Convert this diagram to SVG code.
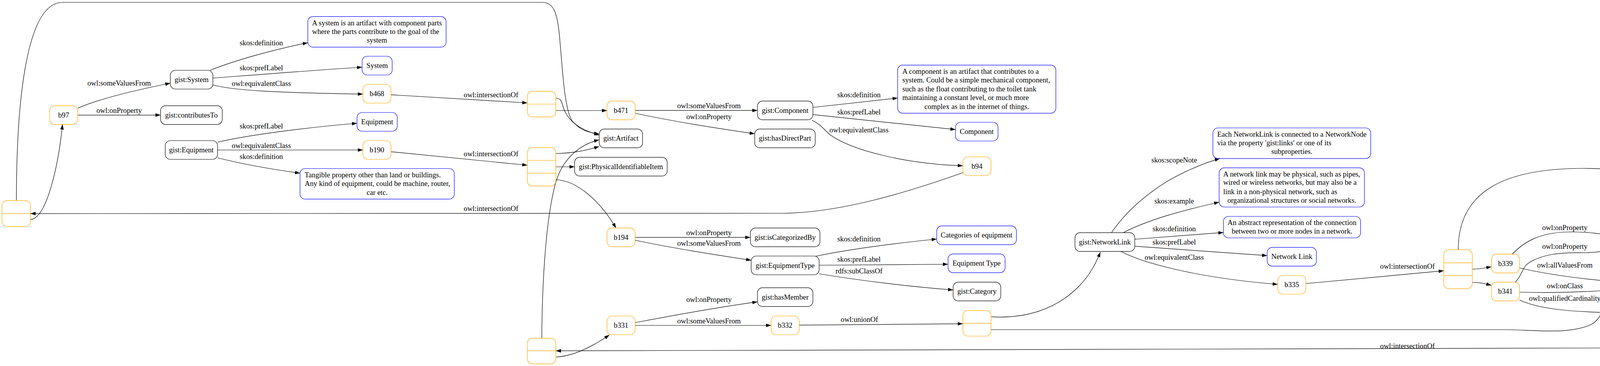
<svg xmlns="http://www.w3.org/2000/svg" width="5764" height="937" viewBox="0 0 5764 937">
<defs>
<marker id="ah" viewBox="0 0 13 9" refX="13" refY="4.5" markerWidth="13" markerHeight="9" markerUnits="userSpaceOnUse" orient="auto"><path d="M0,0 L13,4.5 L0,9 z" fill="#000"/></marker>
<style>
text{font-family:"Liberation Serif","Times New Roman",serif;font-size:18.67px;fill:#000}
.m{text-anchor:middle}
.s{text-anchor:start}
.k rect{fill:#fff;stroke:#000;stroke-width:1.2}
.b rect{fill:#fff;stroke:#0000ff;stroke-width:1.2}
.o rect{fill:#fff;stroke:#ffa500;stroke-width:1.2}
.o line{stroke:#ffa500;stroke-width:1.2}
#edges path{fill:none;stroke:#000;stroke-width:1.2;marker-end:url(#ah)}
</style>
</defs>
<rect width="5764" height="937" fill="#fff"/>
<g id="edges">
<path d="M199,277 C250,255 340,232 436,213"/>
<path d="M199,294.6 L411,294.6"/>
<path d="M538,180 C600,155 700,127 788,109.4"/>
<path d="M545,200 C650,192 800,180 927,172"/>
<path d="M545,217.5 C600,232 700,237 929,241"/>
<path d="M557,364 C640,345 780,327 914,315.5"/>
<path d="M557,384 L929,384"/>
<path d="M557,404 C620,420 700,434 768,443.4"/>
<path d="M1001,242.6 L1350,263.5"/>
<path d="M1001,388.4 L1350,423"/>
<path d="M1423,251 C1440,251 1438,268 1446,285 C1458,310 1480,330 1534,346"/>
<path d="M42,513 C42,300 60,6 160,6 L1389,6 C1420,6 1428,40 1433,100 C1440,180 1445,280 1465,310 C1485,333 1505,339 1534,343"/>
<path d="M1423,283 L1554,283"/>
<path d="M1423,393 C1470,392 1500,385 1534,375"/>
<path d="M1387,866 C1388,700 1400,540 1425,460 C1445,400 1490,368 1534,358"/>
<path d="M1423,427 L1471,427"/>
<path d="M1423,460 C1480,462 1540,520 1577,583.8"/>
<path d="M1626,282.7 L1939,282.7"/>
<path d="M1626,290 C1720,310 1830,328 1932,342.4"/>
<path d="M2081,275 L2298,251"/>
<path d="M2081,293.4 L2446,331.7"/>
<path d="M2079,308 C2100,318 2108,330 2125,345 C2180,385 2320,420 2465,424.3"/>
<path d="M2465,442 C2330,490 2150,546 2000,546 L78,546.8"/>
<path d="M78,562 C120,560 150,420 160,318.6"/>
<path d="M1626,607.7 L1921,607.7"/>
<path d="M1626,615 C1720,635 1830,652 1923,666.3"/>
<path d="M2088,656 C2180,637 2300,622 2398,612"/>
<path d="M2097,679 L2427,676.5"/>
<path d="M2097,701 C2200,718 2330,734 2440,742.2"/>
<path d="M1626,826 C1720,808 1830,788 1939,772.7"/>
<path d="M1626,833 L1974,833"/>
<path d="M2046,832.4 L2465,828.8"/>
<path d="M1423,914 C1470,912 1520,885 1560,857.5"/>
<path d="M5532,887 C5100,897 4000,898.2 1423,898.2"/>
<path d="M2537,811 C2620,816 2700,795 2760,735 C2790,705 2805,675 2817,645.4"/>
<path d="M2537,844 L3860,844 C3940,846 4020,856 4075,830 C4100,815 4105,785 4115,770 L4137,752"/>
<path d="M2845,596 C2880,545 2930,500 2990,463 C3040,435 3080,418 3123,405.8"/>
<path d="M2875,596 C2940,562 3030,538 3121,517.5"/>
<path d="M2905,612.5 L3132,595.2"/>
<path d="M2905,630.4 L3244,654.4"/>
<path d="M2870,644 C2920,670 3050,710 3271,728"/>
<path d="M3343,726 L3696,693.2"/>
<path d="M3733,639.4 C3733,490 3850,431 4054,431 C4250,431 4450,486 4598,529.5"/>
<path d="M3769,689 C3790,689 3800,686 3818,683"/>
<path d="M3769,723 C3790,723 3800,726 3818,730.3"/>
<path d="M3871,651 C3900,620 3940,596 4010,594 C4070,592 4110,601 4156,609.5"/>
<path d="M3879,722.5 C3900,700 3895,685 3915,672 C3950,651 3990,646 4060,647 C4100,646 4130,638 4156,633.4"/>
<path d="M3890,686 C3960,702 4040,713 4121,720.1"/>
<path d="M3890,748 C3970,750 4050,748 4121,743"/>
<path d="M3890,768 C3930,787 4000,800 4165,800.8"/>
<path d="M4247,703.4 C4300,680 4420,645 4568,624.5"/>
<path d="M4281,720 L4449,704"/>
<path d="M4281,739 C4400,748 4500,757 4598,763.1"/>
<path d="M4257,753 C4280,764 4285,774 4310,780 C4390,803 4460,820 4545,829.4"/>
<path d="M4670,541.4 C4800,542 4950,555 5020,577 C5040,585 5055,597 5068,607.7"/>
<path d="M4670,543 C4740,545 4790,562 4815,580 C4830,592 4830,603 4850,612 C4880,626 4930,624 4970,624 C5000,624 5020,640 5030,655 L5082,723.7"/>
<path d="M4670,759 C4750,747 4820,735 4880,715 C4950,692 5000,672 5039,655.5"/>
<path d="M4670,763 L5046,751.2"/>
<path d="M5165,727 C5230,708 5300,690 5379,674"/>
<path d="M5165,747 L5381,743.4"/>
<path d="M5165,765.5 C5280,785 5400,800 5525,808"/>
<path d="M5131,771.5 C5160,792 5180,805 5210,817 C5300,855 5420,877 5532,884"/>
<text class="m" x="305" y="218.7">owl:someValuesFrom</text>
<text class="m" x="305" y="289.3">owl:onProperty</text>
<text class="m" x="669" y="116">skos:definition</text>
<text class="m" x="669" y="179.9">skos:prefLabel</text>
<text class="m" x="669" y="219.9">owl:equivalentClass</text>
<text class="m" x="669" y="329.3">skos:prefLabel</text>
<text class="m" x="669" y="378.9">owl:equivalentClass</text>
<text class="m" x="669" y="407">skos:definition</text>
<text class="m" x="1257" y="248.6">owl:intersectionOf</text>
<text class="m" x="1257" y="400.4">owl:intersectionOf</text>
<text class="m" x="1257" y="540.2">owl:intersectionOf</text>
<text class="m" x="1815" y="276.7">owl:someValuesFrom</text>
<text class="m" x="1815" y="304.8">owl:onProperty</text>
<text class="m" x="2199" y="249.2">skos:definition</text>
<text class="m" x="2199" y="293.4">skos:prefLabel</text>
<text class="m" x="2199" y="338.9">owl:equivalentClass</text>
<text class="m" x="1815" y="602.4">owl:onProperty</text>
<text class="m" x="1815" y="629.3">owl:someValuesFrom</text>
<text class="m" x="2199" y="617.9">skos:definition</text>
<text class="m" x="2199" y="669.9">skos:prefLabel</text>
<text class="m" x="2199" y="699.8">rdfs:subClassOf</text>
<text class="m" x="1815" y="773.3">owl:onProperty</text>
<text class="m" x="1815" y="828.3">owl:someValuesFrom</text>
<text class="m" x="2200" y="824.1">owl:unionOf</text>
<text class="m" x="3006" y="416">skos:scopeNote</text>
<text class="m" x="3006" y="520.5">skos:example</text>
<text class="m" x="3006" y="592.2">skos:definition</text>
<text class="m" x="3006" y="625.7">skos:prefLabel</text>
<text class="m" x="3006" y="664.5">owl:equivalentClass</text>
<text class="m" x="3603" y="688.4">owl:intersectionOf</text>
<text class="m" x="3603" y="892.2">owl:intersectionOf</text>
<text class="m" x="4006" y="588.6">owl:onProperty</text>
<text class="m" x="4006" y="637">owl:onProperty</text>
<text class="m" x="4006" y="684.9">owl:allValuesFrom</text>
<text class="m" x="4006" y="738">owl:onClass</text>
<text class="m" x="4006" y="769.7">owl:qualifiedCardinality</text>
<text class="m" x="4365" y="641.8">skos:prefLabel</text>
<text class="m" x="4365" y="702.2">skos:example</text>
<text class="m" x="4365" y="733.9">rdfs:subClassOf</text>
<text class="m" x="4365" y="771.5">skos:definition</text>
<text class="m" x="4925" y="540.8">owl:onProperty</text>
<text class="m" x="4925" y="599.4">owl:someValuesFrom</text>
<text class="m" x="4925" y="662.1">owl:onProperty</text>
<text class="m" x="4925" y="745.2">owl:someValuesFrom</text>
<text class="m" x="5280" y="672.9">skos:example</text>
<text class="m" x="5280" y="736.2">skos:definition</text>
<text class="m" x="5280" y="765.5">skos:prefLabel</text>
<text class="m" x="5280" y="813.9">owl:equivalentClass</text>
</g>
<g id="n-System" class="k"><rect x="436" y="180" width="109" height="48" rx="13"/><text class="m" x="490.5" y="210">gist:System</text></g>
<g id="n-contributesTo" class="k"><rect x="411" y="270.6" width="158" height="48" rx="13"/><text class="m" x="490" y="300.6">gist:contributesTo</text></g>
<g id="n-Equipment" class="k"><rect x="423" y="360" width="134" height="48" rx="13"/><text class="m" x="490" y="390">gist:Equipment</text></g>
<g id="n-Artifact" class="k"><rect x="1534" y="330.4" width="111" height="48" rx="13"/><text class="m" x="1589.5" y="360.4">gist:Artifact</text></g>
<g id="n-PII" class="k"><rect x="1471" y="402.7" width="237" height="48" rx="13"/><text class="m" x="1589.5" y="432.7">gist:PhysicalIdentifiableItem</text></g>
<g id="n-Component" class="k"><rect x="1939" y="258.7" width="142" height="48" rx="13"/><text class="m" x="2010" y="288.7">gist:Component</text></g>
<g id="n-hasDirectPart" class="k"><rect x="1932" y="330.4" width="155" height="48" rx="13"/><text class="m" x="2009.5" y="360.4">gist:hasDirectPart</text></g>
<g id="n-isCategorizedBy" class="k"><rect x="1921" y="583.7" width="178" height="48" rx="13"/><text class="m" x="2010" y="613.7">gist:isCategorizedBy</text></g>
<g id="n-EquipmentType" class="k"><rect x="1923" y="655.5" width="174" height="48" rx="13"/><text class="m" x="2010" y="685.5">gist:EquipmentType</text></g>
<g id="n-hasMember" class="k"><rect x="1939" y="736.7" width="142" height="48" rx="13"/><text class="m" x="2010" y="766.7">gist:hasMember</text></g>
<g id="n-Category" class="k"><rect x="2440" y="722.4" width="122" height="48" rx="13"/><text class="m" x="2501" y="752.4">gist:Category</text></g>
<g id="n-NetworkLink" class="k"><rect x="2752" y="595.7" width="153" height="48" rx="13"/><text class="m" x="2828.5" y="625.7">gist:NetworkLink</text></g>
<g id="n-links" class="k"><rect x="4156" y="596.9" width="90" height="48" rx="13"/><text class="m" x="4201" y="626.9">gist:links</text></g>
<g id="n-NetworkNode" class="k"><rect x="4121" y="703.3" width="160" height="48" rx="13"/><text class="m" x="4201" y="733.3">gist:NetworkNode</text></g>
<g id="n-isMemberOf" class="k"><rect x="5031" y="607.6" width="149" height="48" rx="13"/><text class="m" x="5105.5" y="637.6">gist:isMemberOf</text></g>
<g id="n-Network" class="k"><rect x="5046" y="723.6" width="119" height="48" rx="13"/><text class="m" x="5105.5" y="753.6">gist:Network</text></g>
<g id="n-b97" class="o"><rect x="127" y="270.6" width="72" height="48" rx="13"/><text class="m" x="163" y="300.6">b97</text></g>
<g id="n-b468" class="o"><rect x="929" y="216" width="72" height="48" rx="13"/><text class="m" x="965" y="246">b468</text></g>
<g id="n-b190" class="o"><rect x="929" y="360" width="72" height="48" rx="13"/><text class="m" x="965" y="390">b190</text></g>
<g id="n-b471" class="o"><rect x="1554" y="258.7" width="72" height="48" rx="13"/><text class="m" x="1590" y="288.7">b471</text></g>
<g id="n-b194" class="o"><rect x="1554" y="583.7" width="72" height="48" rx="13"/><text class="m" x="1590" y="613.7">b194</text></g>
<g id="n-b331" class="o"><rect x="1554" y="809" width="72" height="48" rx="13"/><text class="m" x="1590" y="839">b331</text></g>
<g id="n-b332" class="o"><rect x="1974" y="809" width="72" height="48" rx="13"/><text class="m" x="2010" y="839">b332</text></g>
<g id="n-b94" class="o"><rect x="2465" y="401.5" width="72" height="48" rx="13"/><text class="m" x="2501" y="431.5">b94</text></g>
<g id="n-b335" class="o"><rect x="3271" y="705" width="72" height="48" rx="13"/><text class="m" x="3307" y="735">b335</text></g>
<g id="n-b339" class="o"><rect x="3818" y="650.7" width="72" height="48" rx="13"/><text class="m" x="3854" y="680.7">b339</text></g>
<g id="n-b341" class="o"><rect x="3818" y="722.4" width="72" height="48" rx="13"/><text class="m" x="3854" y="752.4">b341</text></g>
<g id="n-b337" class="o"><rect x="4598" y="517.4" width="72" height="48" rx="13"/><text class="m" x="4634" y="547.4">b337</text></g>
<g id="n-b342" class="o"><rect x="4598" y="740.9" width="72" height="48" rx="13"/><text class="m" x="4634" y="770.9">b342</text></g>
<g id="n-b328" class="o"><rect x="5532" y="861" width="72" height="48" rx="13"/><text class="m" x="5568" y="891">b328</text></g>
<g id="n-listA" class="o"><rect x="5" y="513.3" width="73" height="66.4" rx="13"/><line x1="5" y1="546.8" x2="78" y2="546.8"/></g>
<g id="n-listB" class="o"><rect x="1350" y="233.7" width="73" height="65.7" rx="13"/><line x1="1350" y1="266.5" x2="1423" y2="266.5"/></g>
<g id="n-listC" class="o"><rect x="1350" y="377.7" width="73" height="98.6" rx="13"/><line x1="1350" y1="410.5" x2="1423" y2="410.5"/><line x1="1350" y1="443.4" x2="1423" y2="443.4"/></g>
<g id="n-listD" class="o"><rect x="1350" y="865.9" width="73" height="65.7" rx="13"/><line x1="1350" y1="898.2" x2="1423" y2="898.2"/></g>
<g id="n-listE" class="o"><rect x="2465" y="794.8" width="72" height="65.7" rx="13"/><line x1="2465" y1="827.7" x2="2537" y2="827.7"/></g>
<g id="n-listF" class="o"><rect x="3696" y="639.4" width="73" height="99.8" rx="13"/><line x1="3696" y1="672.9" x2="3769" y2="672.9"/><line x1="3696" y1="705.7" x2="3769" y2="705.7"/></g>
<g id="l-systemdef" class="b"><rect x="788" y="42.4" width="354" height="78.3" rx="13"/><text class="s" x="799" y="64.6">A system is an artifact with component parts</text><text class="s" x="799" y="86.7">where the parts contribute to the goal of the</text><text class="m" x="965" y="109.4">system</text></g>
<g id="l-System" class="b"><rect x="927" y="144" width="77" height="48" rx="13"/><text class="m" x="965.5" y="174">System</text></g>
<g id="l-Equipment" class="b"><rect x="914" y="288" width="103" height="48" rx="13"/><text class="m" x="965.5" y="318">Equipment</text></g>
<g id="l-equipdef" class="b"><rect x="768" y="431.5" width="395" height="78.2" rx="13"/><text class="s" x="780" y="453.6">Tangible property other than land or buildings.</text><text class="s" x="780" y="475.7">Any kind of equipment, could be machine, router,</text><text class="m" x="965.5" y="499">car etc.</text></g>
<g id="l-compdef" class="b"><rect x="2298" y="166.7" width="405" height="123.1" rx="13"/><text class="s" x="2310" y="188.9">A component is an artifact that contributes to a</text><text class="s" x="2310" y="211">system. Could be a simple mechanical component,</text><text class="s" x="2310" y="233.7">such as the float contributing to the toilet tank</text><text class="s" x="2310" y="255.8">maintaining a constant level, or much more</text><text class="m" x="2500.5" y="279.1">complex as in the internet of things.</text></g>
<g id="l-Component" class="b"><rect x="2446" y="313" width="109" height="48" rx="13"/><text class="m" x="2500.5" y="343">Component</text></g>
<g id="l-cateq" class="b"><rect x="2398" y="578.4" width="204" height="48" rx="13"/><text class="m" x="2500" y="608.4">Categories of equipment</text></g>
<g id="l-EquipmentType" class="b"><rect x="2427" y="650.1" width="146" height="48" rx="13"/><text class="m" x="2500" y="680.1">Equipment Type</text></g>
<g id="l-nlscope" class="b"><rect x="3105" y="327.5" width="404" height="78.3" rx="13"/><text class="s" x="3116" y="349.6">Each NetworkLink is connected to a NetworkNode</text><text class="s" x="3116" y="371.7">via the property 'gist:links' or one of its</text><text class="m" x="3307" y="394.4">subproperties.</text></g>
<g id="l-nlexample" class="b"><rect x="3121" y="429.7" width="372" height="100.3" rx="13"/><text class="s" x="3131.6" y="451.8">A network link may be physical, such as pipes,</text><text class="s" x="3131.6" y="473.3">wired or wireless networks, but may also be a</text><text class="s" x="3131.6" y="496.6">link in a non-physical network, such as</text><text class="m" x="3307" y="518.7">organizational structures or social networks.</text></g>
<g id="l-nldef" class="b"><rect x="3132" y="554" width="351" height="55" rx="13"/><text class="m" x="3307.5" y="575.5">An abstract representation of the connection</text><text class="m" x="3307.5" y="597.6">between two or more nodes in a network.</text></g>
<g id="l-NetworkLink" class="b"><rect x="3244" y="633.3" width="126" height="48" rx="13"/><text class="m" x="3307" y="663.3">Network Link</text></g>
<g id="l-two" class="b"><rect x="4165" y="775.6" width="72" height="48" rx="13"/><text class="m" x="4201" y="805.6">2</text></g>
<g id="l-NetworkNode" class="b"><rect x="4568" y="589.1" width="131" height="48" rx="13"/><text class="m" x="4633.5" y="619.1">Network Node</text></g>
<g id="l-nnexample" class="b"><rect x="4449" y="661.5" width="370" height="55" rx="13"/><text class="m" x="4634" y="683.7">A person is a node in a social network; a valve</text><text class="m" x="4634" y="705.2">is a node in a network of pipes.</text></g>
<g id="l-nndef" class="b"><rect x="4545" y="812.6" width="178" height="48" rx="13"/><text class="m" x="4634" y="842.6">A node in a network.</text></g>
<g id="l-netexample" class="b"><rect x="5379" y="589.8" width="378" height="100.4" rx="13"/><text class="s" x="5390" y="612">A physical network could include connected</text><text class="s" x="5390" y="634">computers or routers, whereas a social network</text><text class="s" x="5390" y="656.8">would consist of related Person or Organization</text><text class="m" x="5568" y="678.9">instances.</text></g>
<g id="l-netdef" class="b"><rect x="5381" y="714.6" width="374" height="48" rx="13"/><text class="m" x="5568" y="744.6">A network is a set of nodes connected by links.</text></g>
<g id="l-Network" class="b"><rect x="5525" y="786.3" width="86" height="48" rx="13"/><text class="m" x="5568" y="816.3">Network</text></g>
</svg>
